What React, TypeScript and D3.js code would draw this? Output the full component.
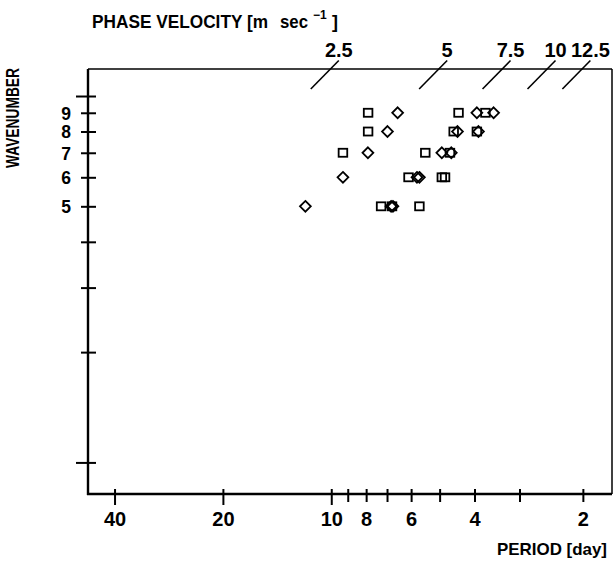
import { useEffect, useMemo, useRef } from "react";
import * as d3 from "d3";

const WIDTH = 614;
const HEIGHT = 561;
const FRAME = { left: 88, right: 612, top: 69, bottom: 494 };
const FONT = "'Liberation Sans Narrow', 'Liberation Sans', 'DejaVu Sans Condensed', sans-serif";

// axis ticks
const PERIOD_TICKS = [40, 20, 10, 9, 8, 7, 6, 5, 4, 3, 2];
const PERIOD_LABELS = [40, 20, 10, 8, 6, 4, 2];
const PERIOD_MAJOR = [40, 20, 10];
const WAVENUMBER_TICKS = [1, 2, 3, 4, 5, 6, 7, 8, 9, 10];
const WAVENUMBER_LABELS = [5, 6, 7, 8, 9];
const WAVENUMBER_MAJOR = [1, 10];

// phase velocity guide lines [m/s]
const VELOCITIES = [2.5, 5, 7.5, 10, 12.5];
const VELOCITY_LABELS = ["2.5", "5", "7.5", "10", "12.5"];
const LATITUDE = 50;
const EARTH_RADIUS = 6.371e6;

// observed waves: squares
const squareWavenumber = [9, 9, 9, 8, 8, 8, 7, 7, 7, 6, 6, 6, 5, 5, 5];
const squarePeriod = [7.9, 4.43, 3.73, 7.9, 4.57, 3.94, 9.28, 5.48, 4.68, 6.1, 4.93, 4.83, 7.27, 6.78, 5.69];

// observed waves: diamonds
const diamondWavenumber = [9, 9, 9, 8, 8, 8, 7, 7, 7, 6, 6, 6, 5, 5, 5];
const diamondPeriod = [6.54, 3.94, 3.54, 6.98, 4.46, 3.9, 7.91, 4.93, 4.64, 9.28, 5.78, 5.69, 11.8, 6.82, 6.74];

export default function App() {
  const xAxisRef = useRef(null);
  const yAxisRef = useRef(null);

  const xScale = useMemo(
    () => d3.scaleLog().domain([47.4, 1.66]).range([FRAME.left, FRAME.right]),
    []
  );
  const yScale = useMemo(
    () => d3.scaleLog().domain([0.82, 11.85]).range([FRAME.bottom, FRAME.top]),
    []
  );

  useEffect(() => {
    const xg = d3.select(xAxisRef.current);
    xg.selectAll("*").remove();
    xg.call(
      d3
        .axisBottom(xScale)
        .tickValues(PERIOD_TICKS)
        .tickSize(0)
        .tickFormat((d) => (PERIOD_LABELS.includes(+d) ? String(d) : ""))
    );
    xg.select(".domain").remove();
    xg.selectAll(".tick line")
      .attr("y1", -5)
      .attr("y2", (d: any) => (PERIOD_MAJOR.includes(d) ? 11 : 8))
      .attr("stroke", "#000")
      .attr("stroke-width", 2);
    xg.selectAll(".tick text")
      .attr("y", 32)
      .attr("dy", null)
      .attr("fill", "#000")
      .attr("font-size", 20)
      .attr("font-weight", "bold")
      .attr("font-family", FONT);

    const yg = d3.select(yAxisRef.current);
    yg.selectAll("*").remove();
    yg.call(
      d3
        .axisLeft(yScale)
        .tickValues(WAVENUMBER_TICKS)
        .tickSize(0)
        .tickFormat((d) => (WAVENUMBER_LABELS.includes(+d) ? String(d) : ""))
    );
    yg.select(".domain").remove();
    yg.selectAll(".tick line")
      .attr("x1", (d: any) => (WAVENUMBER_MAJOR.includes(d) ? -12 : -7))
      .attr("x2", 8)
      .attr("stroke", "#000")
      .attr("stroke-width", 2);
    yg.selectAll(".tick text")
      .attr("x", -17)
      .attr("dy", "0.36em")
      .attr("fill", "#000")
      .attr("font-size", 17.5)
      .attr("font-weight", "bold")
      .attr("font-family", FONT);
  }, [xScale, yScale]);

  const K = (2 * Math.PI * EARTH_RADIUS * Math.cos((LATITUDE * Math.PI) / 180)) / 86400;
  const kLow = 10.45;
  const kHigh = 12.5;

  const guides = VELOCITIES.map((c, i) => {
    const x1 = xScale(K / (c * kLow));
    const y1 = yScale(kLow);
    const x2 = xScale(K / (c * kHigh));
    const y2 = yScale(kHigh);
    return (
      <g key={i}>
        <line x1={x1} y1={y1} x2={x2} y2={y2} stroke="#000" strokeWidth={1.6} />
        <text
          x={x2}
          y={y2 - 4}
          textAnchor="middle"
          fontSize={20}
          fontWeight="bold"
          fontFamily={FONT}
        >
          {VELOCITY_LABELS[i]}
        </text>
      </g>
    );
  });

  const squares = squarePeriod.map((p, i) => (
    <rect
      key={"s" + i}
      x={xScale(p) - 4.3}
      y={yScale(squareWavenumber[i]) - 4}
      width={8.6}
      height={8}
      fill="none"
      stroke="#000"
      strokeWidth={1.8}
    />
  ));

  const diamonds = diamondPeriod.map((p, i) => {
    const cx = xScale(p);
    const cy = yScale(diamondWavenumber[i]);
    const r = 5.4;
    return (
      <path
        key={"d" + i}
        d={`M${cx},${cy - r}L${cx + r},${cy}L${cx},${cy + r}L${cx - r},${cy}Z`}
        fill="none"
        stroke="#000"
        strokeWidth={1.8}
      />
    );
  });

  return (
    <svg
      width={WIDTH}
      height={HEIGHT}
      style={{ position: "absolute", left: 0, top: 0, background: "#fff" }}
    >
      <rect width={WIDTH} height={HEIGHT} fill="#fff" />
      {/* frame */}
      <line x1={FRAME.left} y1={FRAME.top} x2={FRAME.right} y2={FRAME.top} stroke="#000" strokeWidth={1.5} />
      <line x1={FRAME.right} y1={FRAME.top} x2={FRAME.right} y2={FRAME.bottom} stroke="#000" strokeWidth={1.5} />
      <line x1={FRAME.left} y1={FRAME.top} x2={FRAME.left} y2={FRAME.bottom + 1} stroke="#000" strokeWidth={2.4} />
      <line x1={FRAME.left - 1} y1={FRAME.bottom} x2={FRAME.right} y2={FRAME.bottom} stroke="#000" strokeWidth={2.4} />

      <g ref={xAxisRef} transform={`translate(0,${FRAME.bottom})`} />
      <g ref={yAxisRef} transform={`translate(${FRAME.left},0)`} />

      {guides}
      {squares}
      {diamonds}

      {/* phase velocity title */}
      <g fontWeight="bold" fontFamily={FONT}>
        <text x={92} y={28} fontSize={17.5} textLength={176} lengthAdjust="spacingAndGlyphs">
          PHASE VELOCITY [m
        </text>
        <text x={280} y={28} fontSize={17.5} textLength={28} lengthAdjust="spacingAndGlyphs">
          sec
        </text>
        <text x={313} y={19} fontSize={12}>
          −1
        </text>
        <text x={332} y={28} fontSize={18}>
          ]
        </text>
      </g>
      <text
        transform="translate(19,118) rotate(-90)"
        textAnchor="middle"
        fontSize={18.5}
        fontWeight="bold"
        fontFamily={FONT}
        textLength={100}
        lengthAdjust="spacingAndGlyphs"
      >
        WAVENUMBER
      </text>
      <text
        x={497}
        y={555}
        fontSize={17}
        fontWeight="bold"
        fontFamily={FONT}
        textLength={110}
        lengthAdjust="spacingAndGlyphs"
      >
        PERIOD [day]
      </text>
    </svg>
  );
}
